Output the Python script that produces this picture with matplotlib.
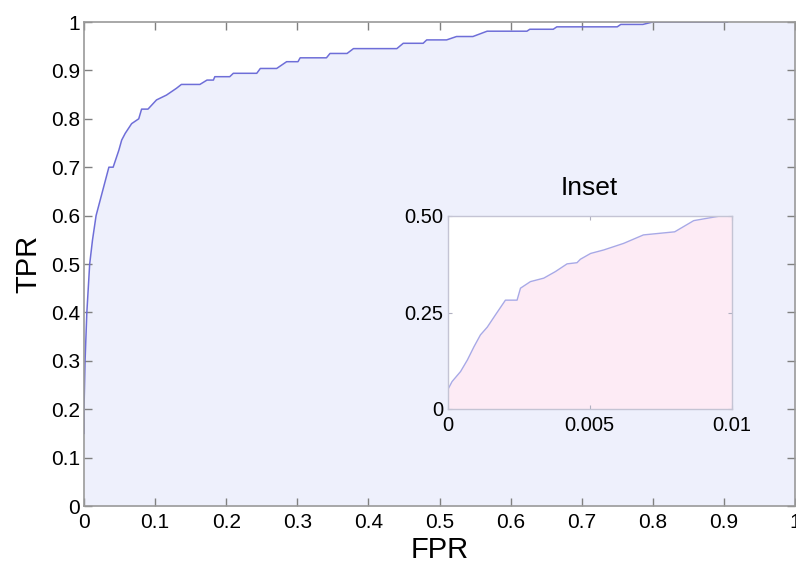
import matplotlib
matplotlib.use("Agg")
import matplotlib.pyplot as plt

plt.rcParams["font.family"] = ["Liberation Sans", "DejaVu Sans"]

# main ROC curve (step corners)
fpr = [0, 0, 0.0015, 0.004, 0.008, 0.012, 0.017, 0.026, 0.035, 0.041,
       0.049, 0.053, 0.058, 0.067, 0.077, 0.081, 0.090, 0.102, 0.116, 0.130,
       0.137, 0.163, 0.173, 0.182, 0.184, 0.205, 0.21, 0.243, 0.248, 0.271,
       0.285, 0.301, 0.304, 0.341, 0.346, 0.37, 0.379, 0.44, 0.449, 0.477,
       0.482, 0.51, 0.524, 0.547, 0.567, 0.623, 0.627, 0.66, 0.665, 0.75,
       0.755, 0.786, 0.80, 0.905]
tpr = [0.15, 0.2, 0.3, 0.4, 0.5, 0.55, 0.6, 0.65, 0.70, 0.70,
       0.735, 0.756, 0.77, 0.79, 0.80, 0.82, 0.82, 0.839, 0.849, 0.863,
       0.871, 0.871, 0.880, 0.880, 0.887, 0.887, 0.894, 0.894, 0.904, 0.904,
       0.918, 0.918, 0.926, 0.926, 0.935, 0.935, 0.945, 0.945, 0.956, 0.956,
       0.963, 0.963, 0.97, 0.97, 0.981, 0.981, 0.985, 0.985, 0.99, 0.99,
       0.995, 0.995, 1.0, 1.0]

# zoomed low-FPR region
fpr_in = [0, 0.00001, 0.00016, 0.00046, 0.0007, 0.00093, 0.00116, 0.0014, 0.00169, 0.00204,
          0.00245, 0.00257, 0.00292, 0.00339, 0.0038, 0.00421, 0.00456, 0.00468, 0.00504, 0.0055,
          0.0062, 0.0069, 0.008, 0.00867, 0.0096, 0.01]
tpr_in = [0.01, 0.05, 0.071, 0.097, 0.127, 0.161, 0.192, 0.212, 0.244, 0.282,
          0.282, 0.313, 0.33, 0.339, 0.356, 0.376, 0.379, 0.388, 0.403, 0.412,
          0.429, 0.451, 0.459, 0.488, 0.5, 0.5]

main_ticks = [i / 10 for i in range(11)]
main_labels = ["0"] + [f"{t:.1f}" for t in main_ticks[1:-1]] + ["1"]
in_xticks = [0, 0.005, 0.01]
in_xlabels = ["0", "0.005", "0.01"]
in_yticks = [0, 0.25, 0.5]
in_ylabels = ["0", "0.25", "0.50"]

fig = plt.figure(figsize=(7.96, 5.68), dpi=100)
ax = fig.add_axes([84 / 796, 62 / 568, 711 / 796, 484 / 568])
ax.fill_between(fpr + [1.0], tpr + [1.0], 0, color="#eef0fc", lw=0)
ax.plot(fpr, tpr, color="#6e6ed8", lw=1.1)
ax.set_xlim(0, 1)
ax.set_ylim(0, 1)
ax.set_xticks(main_ticks)
ax.set_xticklabels(main_labels)
ax.set_yticks(main_ticks)
ax.set_yticklabels(main_labels)
ax.tick_params(direction="in", length=6, width=1, color="#808080",
               top=True, right=True, labelsize=15)
ax.tick_params(axis="x", pad=5)
ax.tick_params(axis="y", pad=3)
for s in ax.spines.values():
    s.set_color("#9a9a9a")
    s.set_linewidth(1.2)
ax.set_xlabel("FPR", fontsize=21, labelpad=3)
ax.set_ylabel("TPR", fontsize=21, labelpad=6)

ins = fig.add_axes([447.5 / 796, 159 / 568, 284 / 796, 193 / 568])
ins.set_facecolor("white")
ins.fill_between(fpr_in, tpr_in, 0, color="#fdebf5", lw=0)
ins.plot(fpr_in, tpr_in, color="#a8a8e6", lw=1.0)
ins.set_xlim(0, 0.01)
ins.set_ylim(0, 0.5)
ins.set_xticks(in_xticks)
ins.set_xticklabels(in_xlabels)
ins.set_yticks(in_yticks)
ins.set_yticklabels(in_ylabels)
ins.tick_params(direction="in", length=3, width=0.8, color="#b0b0c0",
                top=True, right=True, labelsize=14.5)
ins.tick_params(axis="x", pad=5)
ins.tick_params(axis="y", pad=3)
for s in ins.spines.values():
    s.set_color("#c4c4d4")
    s.set_linewidth(1.0)
ins.set_title("Inset", fontsize=19, pad=15)

fig.savefig("out.png", dpi=100)
